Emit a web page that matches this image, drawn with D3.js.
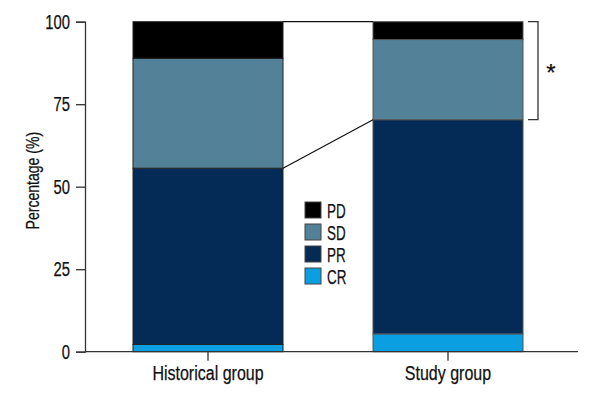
<!DOCTYPE html>
<html>
<head>
<meta charset="utf-8">
<script src="https://cdn.jsdelivr.net/npm/d3@7/dist/d3.min.js"></script>
<style>
  body { margin: 0; background: #fff; }
  svg text { font-family: "Liberation Sans", Arial, sans-serif; fill: #111; stroke: #111; stroke-width: 0.25px; }
</style>
</head>
<body>
<svg id="chart" width="600" height="400"></svg>
<script>
const groups = ["Historical group", "Study group"];
const categories = ["CR", "PR", "SD", "PD"];
const historicalValues = [2.2, 53.4, 33.3, 11.1];
const studyValues = [5.4, 64.9, 24.3, 5.4];
const yTicks = [0, 25, 50, 75, 100];
const legendOrder = ["PD", "SD", "PR", "CR"];
const colors = { CR: "#0a9fe0", PR: "#032b56", SD: "#538197", PD: "#000000" };

const valuesByGroup = { "Historical group": historicalValues, "Study group": studyValues };

// condense text horizontally (reference uses a condensed face)
function condense(sel, f) {
  sel.each(function () {
    const L = this.getComputedTextLength();
    if (L > 0) d3.select(this).attr("textLength", L * f).attr("lengthAdjust", "spacingAndGlyphs");
  });
}

const svg = d3.select("#chart");
const y = d3.scaleLinear().domain([0, 100]).range([351.7, 21.7]);
const x = d3.scaleBand().domain(groups).range([85, 571]).paddingInner(0.375).paddingOuter(0.2);

const stacked = groups.map(g => {
  let cum = 0;
  return valuesByGroup[g].map((v, i) => {
    const seg = { group: g, cat: categories[i], y0: cum, y1: cum + v };
    cum += v;
    return seg;
  });
});

// bars
const gBars = svg.append("g");
stacked.forEach((segs, gi) => {
  gBars.selectAll(null).data(segs).enter().append("rect")
    .attr("x", d => x(d.group))
    .attr("width", x.bandwidth())
    .attr("y", d => y(Math.min(d.y1, 100)))
    .attr("height", d => y(d.y0) - y(Math.min(d.y1, 100)))
    .attr("fill", d => colors[d.cat])
    .attr("stroke", gi === 0 ? "#222" : "#555")
    .attr("stroke-width", 1);
});

// connector lines
const hx = x(groups[0]) + x.bandwidth();
const sx = x(groups[1]);
const hPR = stacked[0][1].y1;
const sPR = stacked[1][1].y1;
svg.append("line").attr("x1", hx).attr("x2", sx).attr("y1", y(100)).attr("y2", y(100))
  .attr("stroke", "#111").attr("stroke-width", 1.2);
svg.append("line").attr("x1", hx).attr("x2", sx).attr("y1", y(hPR)).attr("y2", y(sPR))
  .attr("stroke", "#111").attr("stroke-width", 1.2);

// bracket
const bx = x(groups[1]) + x.bandwidth() + 15;
svg.append("path")
  .attr("d", `M${bx - 10},${y(100)}H${bx}V${y(sPR)}H${bx - 10}`)
  .attr("fill", "none").attr("stroke", "#333").attr("stroke-width", 1.3);
svg.append("text").attr("x", bx + 13).attr("y", y((100 + sPR) / 2) + 10)
  .attr("text-anchor", "middle").attr("font-size", 24).text("*");

// y axis
const yAxis = d3.axisLeft(y).tickValues(yTicks).tickSize(9).tickPadding(6);
const gy = svg.append("g").attr("transform", "translate(85,0)").call(yAxis);
gy.attr("font-size", null).attr("font-family", null);
gy.selectAll("text").attr("font-size", 20).style("fill", "#111");
gy.selectAll("line, path").attr("stroke", "#333").attr("stroke-width", 1.3);
condense(gy.selectAll("text"), 0.74);

// x axis
const xAxis = d3.axisBottom(x).tickSize(9).tickPadding(5).tickSizeOuter(0);
const gx = svg.append("g").attr("transform", `translate(0,${y(0)})`).call(xAxis);
gx.attr("font-size", null).attr("font-family", null);
gx.select(".domain").remove();
gx.append("line").attr("x1", 85).attr("x2", 578).attr("y1", 0).attr("y2", 0)
  .attr("stroke", "#333").attr("stroke-width", 1.3);
gx.selectAll(".tick line").attr("stroke", "#333").attr("stroke-width", 1.3);
gx.selectAll("text").attr("font-size", 20).style("fill", "#111");
condense(gx.selectAll("text"), 0.8);

// y label
const yl = svg.append("text")
  .attr("transform", `translate(39,${y(50) - 6}) rotate(-90)`)
  .attr("text-anchor", "middle").attr("font-size", 18).text("Percentage (%)");
condense(yl, 0.78);

// legend
const lg = svg.append("g").attr("transform", "translate(305,202)");
const items = lg.selectAll("g").data(legendOrder).enter().append("g")
  .attr("transform", (d, i) => `translate(0,${i * 22})`);
items.append("rect").attr("width", 16).attr("height", 16)
  .attr("fill", d => colors[d]).attr("stroke", "#444").attr("stroke-width", 1);
const lt = items.append("text").attr("x", 22).attr("y", 8).attr("dy", "0.36em")
  .attr("font-size", 21).text(d => d);
condense(lt, 0.64);
</script>
</body>
</html>
